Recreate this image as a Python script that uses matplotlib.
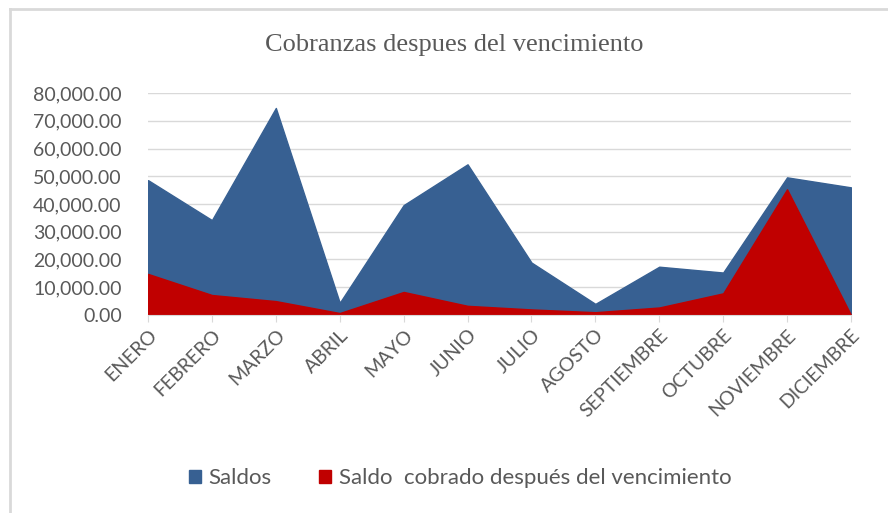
import numpy as np
import matplotlib.pyplot as plt
from matplotlib.lines import Line2D

# meses y valores
meses = ['ENERO', 'FEBRERO', 'MARZO', 'ABRIL', 'MAYO', 'JUNIO', 'JULIO',
         'AGOSTO', 'SEPTIEMBRE', 'OCTUBRE', 'NOVIEMBRE', 'DICIEMBRE']
saldos = [48600, 34200, 74600, 4400, 39600, 54300, 18900, 4000, 17400, 15300, 49600, 46000]
cobrado = [14800, 7200, 5000, 700, 8300, 3300, 2000, 1000, 2700, 7800, 45300, 0]

azul = '#376092'
rojo = '#c00000'
gris = '#595959'

fig = plt.figure(figsize=(8.88, 5.13), dpi=100)
ax = fig.add_axes([0.1667, 0.386, 0.7916, 0.4327])

x = np.arange(len(meses))
ax.fill_between(x, saldos, color=azul, label='Saldos', zorder=2)
ax.fill_between(x, cobrado, color=rojo, label='Saldo  cobrado después del vencimiento', zorder=3)

ax.set_xlim(0, len(meses) - 1)
ax.set_ylim(0, 80000)
ax.set_yticks(np.arange(0, 80001, 10000))
ax.set_yticklabels(['{:,.2f}'.format(v) for v in np.arange(0, 80001, 10000)])
ax.set_xticks(x)
ax.set_xticklabels(meses, rotation=45, ha='right', rotation_mode='anchor')

ax.grid(axis='y', color='#d9d9d9', linewidth=1, zorder=0)
ax.set_axisbelow(True)
for s in ['top', 'right', 'left']:
    ax.spines[s].set_visible(False)
ax.spines['bottom'].set_color('#d9d9d9')
ax.spines['bottom'].set_zorder(4)
ax.tick_params(axis='y', length=0, labelsize=14, labelcolor=gris, pad=19)
ax.tick_params(axis='x', length=5, color='#d9d9d9', labelsize=14, labelcolor=gris, pad=3)
for lab in ax.get_xticklabels() + ax.get_yticklabels():
    lab.set_family('Lato')

fig.text(0.512, 0.912, 'Cobranzas despues del vencimiento', ha='center', va='center',
         fontsize=19, family='Liberation Serif', color=gris)

fig.legend(loc='center', bbox_to_anchor=(0.518, 0.068), ncol=2, frameon=False,
           prop={'family': 'Lato', 'size': 16}, labelcolor=gris,
           handlelength=0.55, handleheight=0.55, handletextpad=0.35, columnspacing=2.1)

# borde del grafico (solo arriba e izquierda visibles en la captura)
fig.lines.append(Line2D([10 / 888, 10 / 888], [0, 1 - 9 / 513], transform=fig.transFigure,
                        color='#d9d9d9', linewidth=2))
fig.lines.append(Line2D([10 / 888, 1], [1 - 9 / 513, 1 - 9 / 513], transform=fig.transFigure,
                        color='#d9d9d9', linewidth=2))

fig.savefig('out.png', dpi=100)
